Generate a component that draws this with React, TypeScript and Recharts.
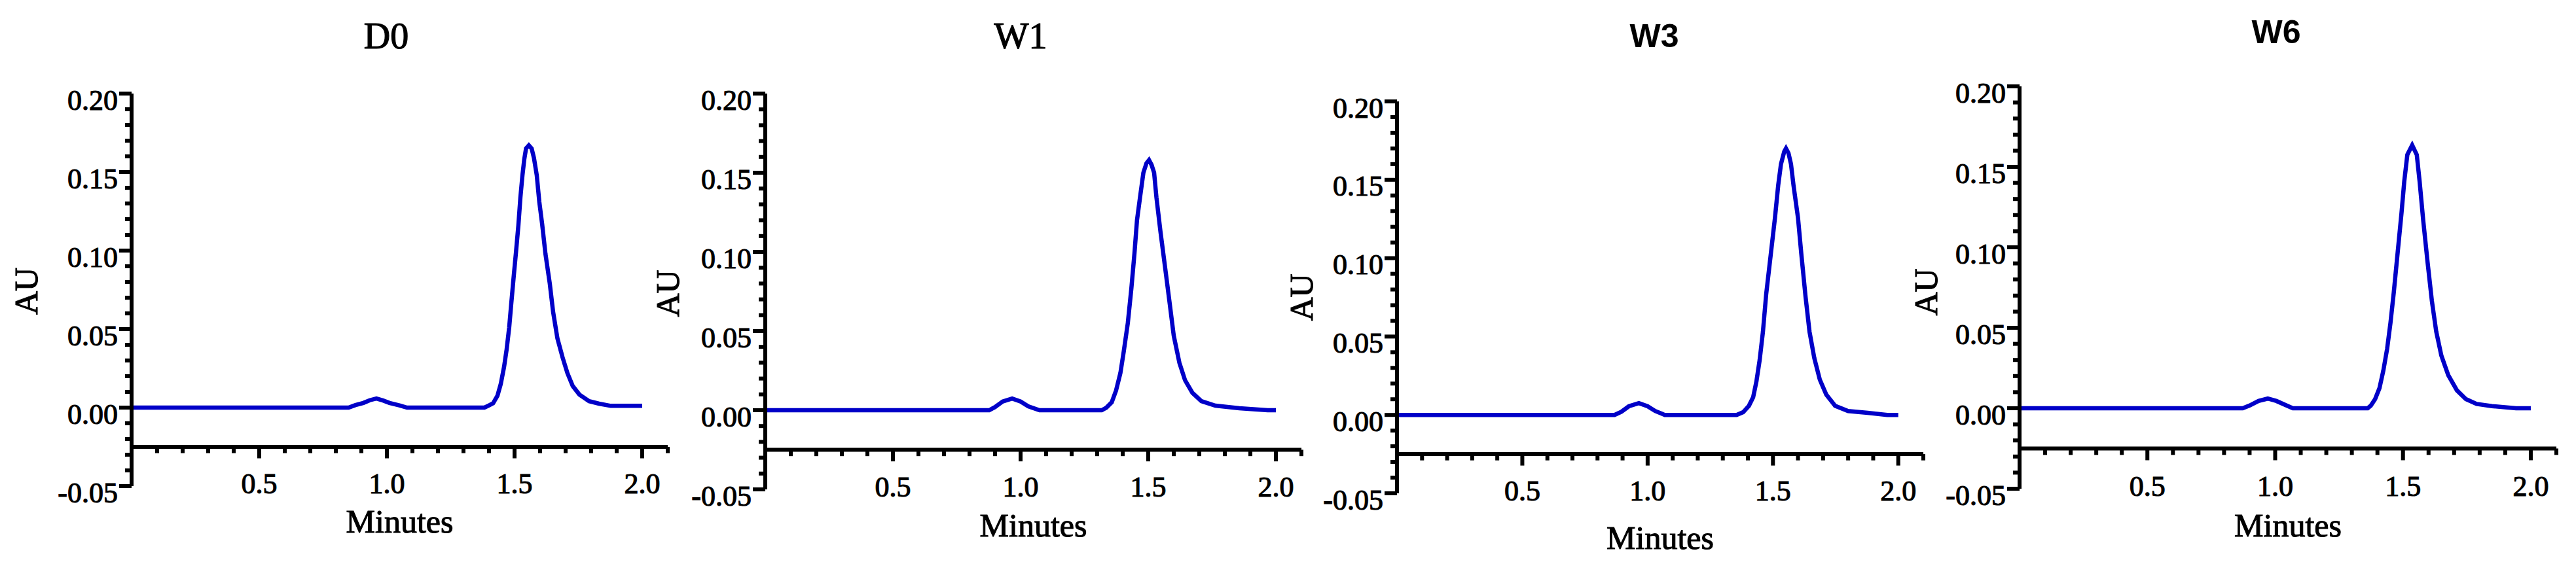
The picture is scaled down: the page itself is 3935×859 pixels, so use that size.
import React from "react";
import { LineChart, Line, XAxis, YAxis, ReferenceLine } from "recharts";

// chromatogram traces (minutes, AU)
const d0Time = [0, 0.85, 0.877, 0.908, 0.933, 0.959, 0.985, 1.01, 1.049, 1.079, 1.382, 1.4, 1.416, 1.433, 1.446, 1.459, 1.469, 1.479, 1.487, 1.497, 1.506, 1.515, 1.523, 1.531, 1.538, 1.545, 1.556, 1.567, 1.576, 1.587, 1.597, 1.608, 1.621, 1.638, 1.651, 1.668, 1.688, 1.707, 1.728, 1.754, 1.792, 1.831, 1.877, 2.0];
const d0AU = [0, 0, 0.0016, 0.003, 0.0047, 0.0058, 0.0045, 0.003, 0.0014, 0, 0, 0.0014, 0.0028, 0.0075, 0.015, 0.026, 0.037, 0.051, 0.066, 0.084, 0.0996, 0.116, 0.134, 0.148, 0.158, 0.165, 0.167, 0.165, 0.159, 0.148, 0.131, 0.117, 0.098, 0.079, 0.061, 0.044, 0.032, 0.022, 0.0137, 0.0083, 0.0041, 0.0025, 0.0011, 0.0011];

const w1Time = [0, 0.877, 0.9, 0.93, 0.967, 1.0, 1.03, 1.074, 1.318, 1.336, 1.357, 1.374, 1.391, 1.404, 1.42, 1.434, 1.446, 1.456, 1.468, 1.481, 1.493, 1.503, 1.513, 1.523, 1.532, 1.548, 1.567, 1.584, 1.6, 1.622, 1.644, 1.673, 1.708, 1.763, 1.857, 1.968, 2.0];
const w1AU = [0, 0, 0.002, 0.0055, 0.0074, 0.0055, 0.0025, 0, 0, 0.0016, 0.005, 0.0125, 0.0235, 0.037, 0.055, 0.077, 0.099, 0.12, 0.1346, 0.15, 0.156, 0.158, 0.155, 0.15, 0.1346, 0.1127, 0.089, 0.0675, 0.047, 0.03, 0.019, 0.011, 0.0057, 0.0029, 0.0012, 0, 0];

const w3Time = [0, 0.868, 0.895, 0.925, 0.965, 1.0, 1.03, 1.068, 1.355, 1.381, 1.404, 1.421, 1.434, 1.447, 1.46, 1.473, 1.491, 1.508, 1.521, 1.532, 1.545, 1.552, 1.562, 1.572, 1.582, 1.6, 1.613, 1.63, 1.646, 1.665, 1.687, 1.713, 1.748, 1.8, 1.878, 1.956, 2.0];
const w3AU = [0, 0, 0.002, 0.0055, 0.0075, 0.0055, 0.0025, 0, 0, 0.0017, 0.0058, 0.0113, 0.0213, 0.035, 0.053, 0.077, 0.102, 0.1257, 0.1465, 0.16, 0.168, 0.17, 0.167, 0.16, 0.1465, 0.1257, 0.103, 0.0755, 0.053, 0.0363, 0.0225, 0.0129, 0.0058, 0.0025, 0.0013, 0, 0];

const w6Time = [0, 0.873, 0.9, 0.935, 0.971, 1.005, 1.04, 1.069, 1.362, 1.374, 1.391, 1.408, 1.423, 1.438, 1.451, 1.464, 1.479, 1.494, 1.505, 1.517, 1.536, 1.554, 1.565, 1.579, 1.596, 1.613, 1.63, 1.65, 1.677, 1.711, 1.746, 1.788, 1.848, 1.942, 2.0];
const w6AU = [0, 0, 0.0017, 0.0045, 0.006, 0.0045, 0.002, 0, 0, 0.0016, 0.0057, 0.0125, 0.0233, 0.037, 0.053, 0.072, 0.0965, 0.121, 0.141, 0.1575, 0.1635, 0.1575, 0.141, 0.117, 0.091, 0.0667, 0.0477, 0.0328, 0.0206, 0.0111, 0.0057, 0.0027, 0.0013, 0, 0];

const xLabelTicks = [0.5, 1.0, 1.5, 2.0];
const xMinorTicks = [0.1, 0.2, 0.3, 0.4, 0.6, 0.7, 0.8, 0.9, 1.1, 1.2, 1.3, 1.4, 1.6, 1.7, 1.8, 1.9, 2.1];
const yTicks = [-0.05, -0.04, -0.03, -0.02, -0.01, 0, 0.01, 0.02, 0.03, 0.04, 0.05, 0.06, 0.07, 0.08, 0.09, 0.1, 0.11, 0.12, 0.13, 0.14, 0.15, 0.16, 0.17, 0.18, 0.19, 0.2];
const xAxisAt = -0.025;

const SERIF = "'Liberation Serif', 'DejaVu Serif', serif";
const SANS = "'Liberation Sans', Arial, sans-serif";
const BLUE = "#0000c8";
const AXIS_W = 6;
const Y_AXIS_W = 200;
const X_AXIS_H = 100;
// the source text is heavy; a thin outline thickens Liberation Serif a little
const heavy = { stroke: "#000", strokeWidth: 1.1 };

const panels = [
  { title: "D0", time: d0Time, au: d0AU, x0: 201, right: 1020, top: 143, bottom: 743, tx: 590, ty: 55, tFont: SERIF, tSize: 56, tWeight: 400, auDx: -61, auDy: 2, minDy: 54 },
  { title: "W1", time: w1Time, au: w1AU, x0: 1169, right: 1988, top: 143, bottom: 748, tx: 1559, ty: 55, tFont: SERIF, tSize: 56, tWeight: 400, auDx: -49, auDy: 3, minDy: 55 },
  { title: "W3", time: w3Time, au: w3AU, x0: 2134, right: 2938, top: 155, bottom: 754, tx: 2527, ty: 55, tFont: SANS, tSize: 50, tWeight: 700, auDx: -46, auDy: 0, minDy: 68 },
  { title: "W6", time: w6Time, au: w6AU, x0: 3085, right: 3905, top: 132, bottom: 747, tx: 3477, ty: 49, tFont: SANS, tSize: 50, tWeight: 700, auDx: -43, auDy: 7, minDy: 56 },
];

const isMajor = (v: number) => Math.abs(v * 20 - Math.round(v * 20)) < 1e-6;

function YTick(props: any) {
  const { x, y, payload } = props;
  const major = isMajor(payload.value);
  return (
    <g>
      <line x1={x} x2={x - (major ? 19 : 10)} y1={y} y2={y} stroke="#000" strokeWidth={AXIS_W} />
      {major && (
        <text x={x - 21} y={y + 10} textAnchor="end" dominantBaseline="central" fontFamily={SERIF} fontSize={44} fill="#000" {...heavy}>
          {payload.value.toFixed(2)}
        </text>
      )}
    </g>
  );
}

function XTick(props: any) {
  const { x, y, payload } = props;
  return (
    <text x={x} y={y - 4} textAnchor="middle" dominantBaseline="central" fontFamily={SERIF} fontSize={44} fill="#000" {...heavy}>
      {payload.value.toFixed(1)}
    </text>
  );
}

function AuLabel(props: any) {
  const { viewBox, dx = 0, dy = 0 } = props;
  const cx = viewBox.x + viewBox.width / 2 + dx;
  const cy = viewBox.y + viewBox.height / 2 + dy;
  return (
    <text x={cx} y={cy} transform={`rotate(-90 ${cx} ${cy})`} textAnchor="middle" dominantBaseline="central" fontFamily={SERIF} fontSize={50} fill="#000" {...heavy}>
      AU
    </text>
  );
}

function MinutesLabel(props: any) {
  const { viewBox, dy = 0 } = props;
  const cx = viewBox.x + viewBox.width / 2;
  const cy = viewBox.y + dy;
  return (
    <text x={cx} y={cy} textAnchor="middle" dominantBaseline="central" fontFamily={SERIF} fontSize={50} fill="#000" {...heavy}>
      Minutes
    </text>
  );
}

function Panel({ p }: { p: (typeof panels)[number] }) {
  const data = p.time.map((t, i) => ({ t, au: p.au[i] }));
  const left = p.x0 - Y_AXIS_W;
  const width = p.right - left + 20;
  return (
    <>
      <div
        style={{
          position: "absolute",
          left: p.tx,
          top: p.ty,
          transform: "translate(-50%, -50%)",
          fontFamily: p.tFont,
          fontSize: p.tSize,
          fontWeight: p.tWeight,
          lineHeight: 1,
          whiteSpace: "nowrap",
          WebkitTextStroke: p.tWeight < 700 ? "1.2px #000" : undefined,
        }}
      >
        {p.title}
      </div>
      <div style={{ position: "absolute", left, top: 0 }}>
        <LineChart width={width} height={859} data={data} margin={{ top: p.top, right: 20, left: 0, bottom: 859 - p.bottom - X_AXIS_H }}>
          <XAxis
            dataKey="t"
            type="number"
            domain={[0, 2.1]}
            ticks={xLabelTicks}
            interval={0}
            axisLine={false}
            tickLine={false}
            tickSize={0}
            tickMargin={0}
            height={X_AXIS_H}
            tick={<XTick />}
            label={<MinutesLabel dy={p.minDy} />}
          />
          <YAxis
            type="number"
            domain={[-0.05, 0.2]}
            ticks={yTicks}
            interval={0}
            width={Y_AXIS_W}
            axisLine={{ stroke: "#000", strokeWidth: AXIS_W }}
            tickLine={false}
            tickSize={0}
            tickMargin={0}
            tick={<YTick />}
            label={<AuLabel dx={p.auDx} dy={p.auDy} />}
          />
          <ReferenceLine y={xAxisAt} stroke="#000" strokeWidth={AXIS_W} />
          {xMinorTicks.map((t) => (
            <ReferenceLine key={`m${t}`} segment={[{ x: t, y: xAxisAt }, { x: t, y: xAxisAt - 0.004 }]} stroke="#000" strokeWidth={AXIS_W} />
          ))}
          {xLabelTicks.map((t) => (
            <ReferenceLine key={`M${t}`} segment={[{ x: t, y: xAxisAt }, { x: t, y: xAxisAt - 0.0073 }]} stroke="#000" strokeWidth={AXIS_W} />
          ))}
          <Line dataKey="au" type="linear" stroke={BLUE} strokeWidth={6.5} dot={false} isAnimationActive={false} />
        </LineChart>
      </div>
    </>
  );
}

export default function App() {
  return (
    <div style={{ position: "absolute", left: 0, top: 0, width: 3935, height: 859, background: "#fff" }}>
      {panels.map((p) => (
        <Panel key={p.title} p={p} />
      ))}
    </div>
  );
}
